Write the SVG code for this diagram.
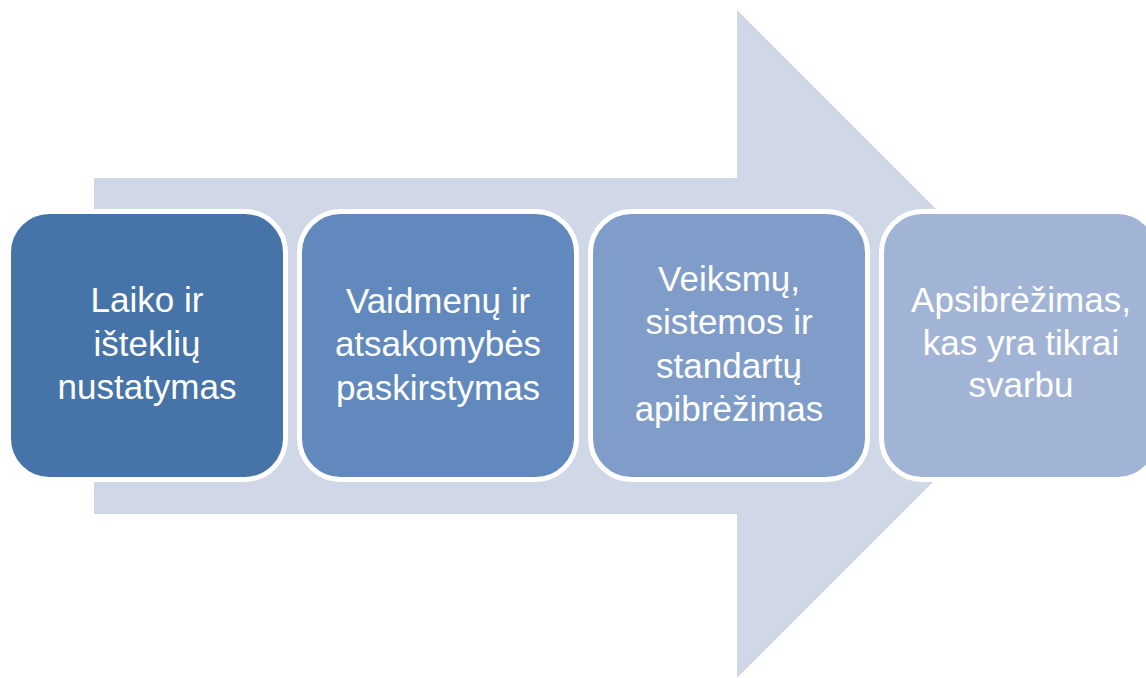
<svg xmlns="http://www.w3.org/2000/svg" width="1146" height="678" viewBox="0 0 1146 678">
<style>
.box{stroke:#ffffff;stroke-width:5}
.t{font-family:"Liberation Sans",Arial,sans-serif;font-size:35px;fill:#ffffff;text-anchor:middle}
</style>
<rect width="1146" height="678" fill="#ffffff"/>
<g id="connectors">
<polygon id="arrow" points="94,178 737,178 737,10 1071,344 737,678 737,514 94,514" fill="#D0D8E8"/>
</g>
<g id="node1">
<rect class="box" x="8.5" y="211.5" width="277" height="268" rx="41" fill="#4674A8"/>
<text class="t" x="147" y="312">Laiko ir</text>
<text class="t" x="147" y="355.5">išteklių</text>
<text class="t" x="147" y="399">nustatymas</text>
</g>
<g id="node2">
<rect class="box" x="299.5" y="211.5" width="277" height="268" rx="41" fill="#6289BD"/>
<text class="t" x="438" y="312.5">Vaidmenų ir</text>
<text class="t" x="438" y="356">atsakomybės</text>
<text class="t" x="438" y="399.5">paskirstymas</text>
</g>
<g id="node3">
<rect class="box" x="590.5" y="211.5" width="277" height="268" rx="41" fill="#809DC9"/>
<text class="t" x="729" y="290.5">Veiksmų,</text>
<text class="t" x="729" y="334">sistemos ir</text>
<text class="t" x="729" y="377.5">standartų</text>
<text class="t" x="729" y="421">apibrėžimas</text>
</g>
<g id="node4">
<rect class="box" x="881.5" y="211.5" width="277" height="268" rx="41" fill="#A2B4D6"/>
<text class="t" x="1021" y="312">Apsibrėžimas,</text>
<text class="t" x="1021" y="354.5">kas yra tikrai</text>
<text class="t" x="1021" y="397">svarbu</text>
</g>
</svg>
